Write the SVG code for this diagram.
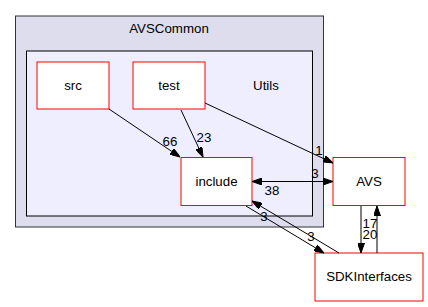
<svg xmlns="http://www.w3.org/2000/svg" width="428" height="307" viewBox="0 0 428 307">
  <style>
    text { font-family: "Liberation Sans", Arial, sans-serif; font-size: 13.3px; fill: #000; }
    .lbl { text-anchor: middle; }
    .node rect { fill: #fff; stroke: #ff0000; stroke-width: 1; }
    .edge { fill: none; stroke: #000; stroke-width: 1; marker-end: url(#arrow); }
  </style>
  <defs>
    <marker id="arrow" viewBox="0 0 10 7" refX="10" refY="3.5" markerWidth="10" markerHeight="7" markerUnits="userSpaceOnUse" orient="auto-start-reverse">
      <path d="M0,0 L10,3.5 L0,7 z" fill="#000" stroke="#000"/>
    </marker>
  </defs>
  <rect width="428" height="307" fill="#fff"/>

  <!-- clusters -->
  <g id="cluster_AVSCommon">
    <rect x="15.5" y="16" width="308" height="211" fill="#ddddee" stroke="#333" stroke-width="1"/>
    <text x="169" y="33" class="lbl">AVSCommon</text>
  </g>
  <g id="cluster_Utils">
    <rect x="26.5" y="51" width="286" height="165" fill="#eeeeff" stroke="#000" stroke-width="1"/>
    <text x="266" y="90" class="lbl">Utils</text>
  </g>

  <!-- nodes -->
  <g id="node_src" class="node">
    <rect x="37" y="62" width="72" height="47"/>
    <text x="73" y="90" class="lbl">src</text>
  </g>
  <g id="node_test" class="node">
    <rect x="133" y="62" width="72" height="47"/>
    <text x="169" y="90" class="lbl">test</text>
  </g>
  <g id="node_include" class="node">
    <rect x="181" y="157.5" width="71" height="48"/>
    <text x="216.5" y="186" class="lbl">include</text>
  </g>
  <g id="node_AVS" class="node">
    <rect x="333" y="157.5" width="72" height="48"/>
    <text x="369" y="186" class="lbl">AVS</text>
  </g>
  <g id="node_SDKInterfaces" class="node">
    <rect x="315" y="253" width="108" height="48"/>
    <text x="369" y="281" class="lbl">SDKInterfaces</text>
  </g>

  <!-- connectors -->
  <g id="edges">
    <path class="edge" d="M109,109 L180,157"/>
    <text x="170" y="146" class="lbl">66</text>

    <path class="edge" d="M181,110 L203,157"/>
    <text x="204" y="142" class="lbl">23</text>

    <path class="edge" d="M205,103 L333,163"/>
    <text x="319" y="155" class="lbl">1</text>

    <path class="edge" style="marker-start:url(#arrow)" d="M252,181.5 L333,181.5"/>
    <text x="315" y="178" class="lbl">3</text>
    <text x="272" y="195" class="lbl">38</text>

    <path class="edge" d="M246,206 L324,253"/>
    <text x="264" y="221" class="lbl">3</text>

    <path class="edge" d="M339,253 L252,201"/>
    <text x="311" y="241" class="lbl">3</text>

    <path class="edge" d="M361,206 L361,253"/>
    <text x="370" y="228" class="lbl">17</text>

    <path class="edge" d="M377,253 L377,206"/>
    <text x="370" y="238.5" class="lbl">20</text>
  </g>
</svg>
